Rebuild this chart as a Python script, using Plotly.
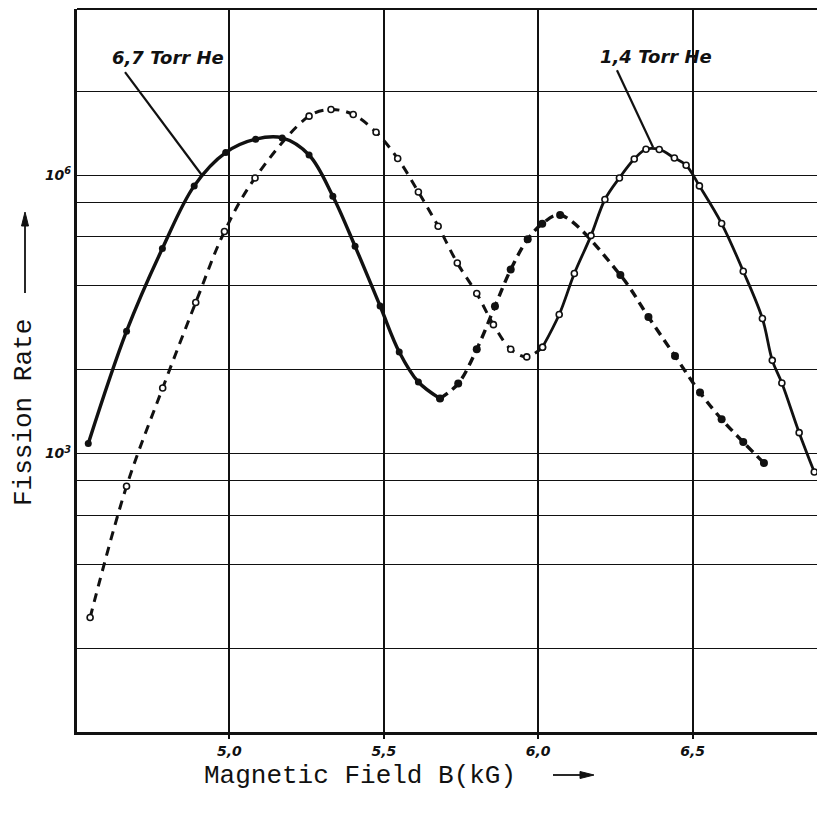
import numpy as np
import plotly.graph_objects as go

# ---------------- data ----------------
# 6,7 Torr He  (filled dots) : solid part then dashed part
he67_solid_B = [4.543, 4.667, 4.783, 4.886, 4.988, 5.085, 5.171, 5.258, 5.335, 5.407, 5.488, 5.550, 5.612, 5.682]
he67_solid_R = [1.28e3, 2.08e4, 1.62e5, 7.66e5, 1.75e6, 2.44e6, 2.52e6, 1.65e6, 5.93e5, 1.71e5, 3.89e4, 1.245e4, 5.9e3, 3.91e3]
he67_dash_B = [5.682, 5.741, 5.801, 5.860, 5.911, 5.966, 6.013, 6.071, 6.266, 6.357, 6.443, 6.524, 6.594, 6.664, 6.731]
he67_dash_R = [3.91e3, 5.68e3, 1.33e4, 3.86e4, 9.62e4, 2.04e5, 2.99e5, 3.72e5, 8.37e4, 2.96e4, 1.125e4, 4.54e3, 2.34e3, 1.33e3, 791]

# 1,4 Torr He  (open circles) : dashed part then solid part
he14_dash_B = [4.549, 4.667, 4.784, 4.891, 4.984, 5.083, 5.258, 5.329, 5.401, 5.475, 5.545, 5.612, 5.676,
               5.738, 5.801, 5.855, 5.911, 5.963, 6.014]
he14_dash_R = [17.1, 444, 5.09e3, 4.24e4, 2.47e5, 9.33e5, 4.32e6, 5.09e6, 4.50e6, 2.90e6, 1.51e6, 6.59e5, 2.81e5,
               1.13e5, 5.30e4, 2.45e4, 1.33e4, 1.10e4, 1.40e4]
he14_solid_B = [6.014, 6.068, 6.117, 6.171, 6.216, 6.263, 6.311, 6.349, 6.392, 6.441, 6.479, 6.522, 6.594,
                6.664, 6.726, 6.758, 6.789, 6.845, 6.894]
he14_solid_R = [1.40e4, 3.15e4, 8.71e4, 2.23e5, 5.46e5, 9.33e5, 1.49e6, 1.90e6, 1.89e6, 1.53e6, 1.28e6, 7.66e5,
                3.01e5, 9.21e4, 2.85e4, 1.01e4, 5.76e3, 1.68e3, 633]

x_ticks = [5.0, 5.5, 6.0, 6.5]
x_ticktext = ["5,0", "5,5", "6,0", "6,5"]
y_ticks = [1e3, 1e6]
y_ticktext = ["10<sup>3</sup>", "10<sup>6</sup>"]
y_grid = [1, 8, 64, 216, 512, 1e3, 8e3, 6.4e4, 2.16e5, 5.12e5, 1e6, 8e6]

# label leader lines (B, rate)
lead67_B = [4.662, 4.911]
lead67_R = [10 ** 7.109, 10 ** 5.999]
lead14_B = [6.255, 6.372]
lead14_R = [10 ** 7.131, 10 ** 6.301]

# ---------------- figure ----------------
fig = go.Figure()
BLACK = "#111111"

fig.add_trace(go.Scatter(x=he67_solid_B, y=he67_solid_R, mode="lines+markers",
                         line=dict(color=BLACK, width=3.4, shape="spline", smoothing=1.0),
                         marker=dict(symbol="circle", size=7, color=BLACK)))
fig.add_trace(go.Scatter(x=he67_dash_B, y=he67_dash_R, mode="lines+markers",
                         line=dict(color=BLACK, width=3.4, dash="9px,6px", shape="spline", smoothing=1.0),
                         marker=dict(symbol="circle", size=8, color=BLACK)))
fig.add_trace(go.Scatter(x=he14_dash_B, y=he14_dash_R, mode="lines+markers",
                         line=dict(color=BLACK, width=3.0, dash="9px,7px", shape="spline", smoothing=1.0),
                         marker=dict(symbol="circle", size=6, color="white", line=dict(color=BLACK, width=1.6))))
fig.add_trace(go.Scatter(x=he14_solid_B, y=he14_solid_R, mode="lines+markers",
                         line=dict(color=BLACK, width=2.8, shape="spline", smoothing=1.0),
                         marker=dict(symbol="circle", size=6, color="white", line=dict(color=BLACK, width=1.6))))
for lb, lr in [(lead67_B, lead67_R), (lead14_B, lead14_R)]:
    fig.add_trace(go.Scatter(x=lb, y=lr, mode="lines", line=dict(color=BLACK, width=2.2)))

label_font = dict(family="DejaVu Sans, Arial", size=18, color=BLACK)
fig.add_annotation(x=4.801, y=7.271, xref="x", yref="y", text="<i><b>6,7 Torr He</b></i>",
                   showarrow=False, font=label_font)
fig.add_annotation(x=6.381, y=7.282, xref="x", yref="y", text="<i><b>1,4 Torr He</b></i>",
                   showarrow=False, font=label_font)


def px(x):
    return (x - 77) / 740


def py(y):
    return 1 - (y - 9) / 723


mono = dict(family="Liberation Mono, Courier New, monospace", size=26, color=BLACK)
# y title
fig.add_annotation(x=px(24), y=py(413), xref="paper", yref="paper", text="Fission Rate",
                   textangle=-90, showarrow=False, font=mono, xanchor="center", yanchor="middle")
fig.add_shape(type="line", xref="paper", yref="paper", x0=px(25), x1=px(25), y0=py(293), y1=py(222),
              line=dict(color=BLACK, width=1.8))
fig.add_shape(type="path", xref="paper", yref="paper",
              path=f"M {px(21.5)} {py(226)} L {px(28.5)} {py(226)} L {px(25)} {py(212)} Z",
              fillcolor=BLACK, line=dict(color=BLACK, width=1))
# x title
fig.add_annotation(x=px(360), y=py(776), xref="paper", yref="paper",
                   text="Magnetic Field B(kG)", showarrow=False, font=mono,
                   xanchor="center", yanchor="middle")
fig.add_shape(type="line", xref="paper", yref="paper", x0=px(553), x1=px(585), y0=py(775), y1=py(775),
              line=dict(color=BLACK, width=1.8))
fig.add_shape(type="path", xref="paper", yref="paper",
              path=f"M {px(580)} {py(771.5)} L {px(580)} {py(778.5)} L {px(594)} {py(775)} Z",
              fillcolor=BLACK, line=dict(color=BLACK, width=1))

# top border
fig.add_shape(type="line", xref="paper", yref="paper", x0=0, x1=1, y0=1, y1=1,
              line=dict(color=BLACK, width=2))

fig.update_xaxes(range=[4.5065, 6.9028], tickvals=x_ticks, ticktext=x_ticktext,
                 showgrid=True, gridcolor=BLACK, gridwidth=1.6, zeroline=False,
                 showline=True, linecolor=BLACK, linewidth=3,
                 ticks="outside", ticklen=4, tickcolor=BLACK, tickwidth=1.5,
                 tickfont=dict(family="DejaVu Sans, Arial", size=14, color=BLACK, style="italic", weight="bold"))
fig.update_yaxes(type="log", range=[0, 7.79], tickvals=y_ticks, ticktext=y_ticktext,
                 showgrid=True, gridcolor=BLACK, gridwidth=1.4, zeroline=False,
                 minor=dict(tickvals=y_grid, showgrid=True, gridcolor=BLACK, gridwidth=1.4, ticks=""),
                 showline=True, linecolor=BLACK, linewidth=3, ticks="",
                 tickfont=dict(family="DejaVu Sans, Arial", size=14, color=BLACK, style="italic", weight="bold"))

fig.update_layout(width=817, height=815, margin=dict(l=77, r=0, t=9, b=83),
                  paper_bgcolor="white", plot_bgcolor="white", showlegend=False)

fig.write_html("out.html")
